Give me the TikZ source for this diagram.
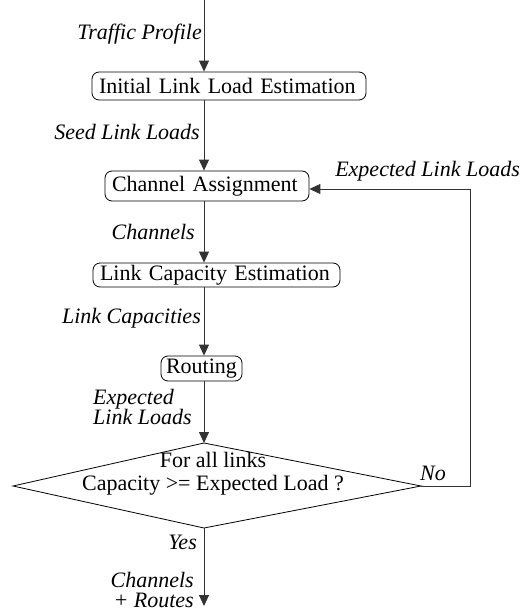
\documentclass[tikz,border=0pt]{standalone}
\usepackage{fontspec}
\setmainfont{Liberation Serif}
\usetikzlibrary{arrows.meta}
\begin{document}
\begin{tikzpicture}[x=1pt,y=-1pt,
  font=\fontsize{22}{24}\selectfont,
  box/.style={draw, line width=0.8pt, rounded corners=7pt, inner xsep=7pt, inner ysep=0pt, align=left},
  lab/.style={font=\fontsize{22}{18}\selectfont\itshape, inner sep=0pt},
  conn/.style={draw=black!80, line width=0.9pt},
  arr/.style={conn, -{Triangle[length=11pt,width=10pt]}}]
\useasboundingbox (0,0) rectangle (523,612);

% boxes
\node[box, text width=260pt, minimum height=28pt] (b1) at (229,86) {Initial Link Load Estimation};
\node[box, text width=190pt, minimum height=30pt] (b2) at (207,186) {Channel Assignment};
\node[box, text width=233pt, minimum height=24pt] (b3) at (216.5,275) {Link Capacity Estimation};
\node[box, inner xsep=5pt, text width=71pt, minimum height=25pt, align=center] (b4) at (201.5,368.5) {Routing};

% decision diamond (asymmetric, drawn directly)
\coordinate (dT) at (204,443);
\coordinate (dR) at (421,486);
\coordinate (dB) at (204,528);
\coordinate (dL) at (13,486);
\draw[line width=0.8pt] (dT) -- (dR) -- (dB) -- (dL) -- cycle;
\node[align=center, inner sep=0pt, font=\fontsize{22}{23}\selectfont] (dtext) at (213,474) {For all links\\Capacity >= Expected Load ?};

% spine coordinates
\coordinate (top) at (204,0);
\coordinate (end) at (204,606);
\coordinate (nr) at (470,486);

% connectors
\draw[arr] (top) -- (top |- b1.north);
\draw[arr] (b1.south -| top) -- (b2.north -| top);
\draw[arr] (b2.south -| top) -- (b3.north -| top);
\draw[arr] (b3.south -| top) -- (b4.north -| top);
\draw[arr] (b4.south -| top) -- (dT);
\draw[arr] (dB) -- (end);
\draw[arr] (dR) -- (nr) |- ([yshift=-3pt]b2.east);

% labels
\node[lab, anchor=east] (l1) at (202,34) {Traffic Profile};
\node[lab, anchor=east] (l2) at (200,132) {Seed Link Loads};
\node[lab, anchor=east] (l3) at (520,171) {Expected Link Loads};
\node[lab, anchor=east] (l4) at (195,232) {Channels};
\node[lab, anchor=east] (l5) at (201,318) {Link Capacities};
\node[lab, anchor=west, align=left] (l6) at (93,407) {Expected\\Link Loads};
\node[lab, anchor=west] (l7) at (420,473) {No};
\node[lab, anchor=east] (l8) at (197,542) {Yes};
\node[lab, anchor=north east, align=right, font=\fontsize{22}{20}\selectfont\itshape] (l9) at (194,572) {Channels\\+ Routes};
\end{tikzpicture}
\end{document}
